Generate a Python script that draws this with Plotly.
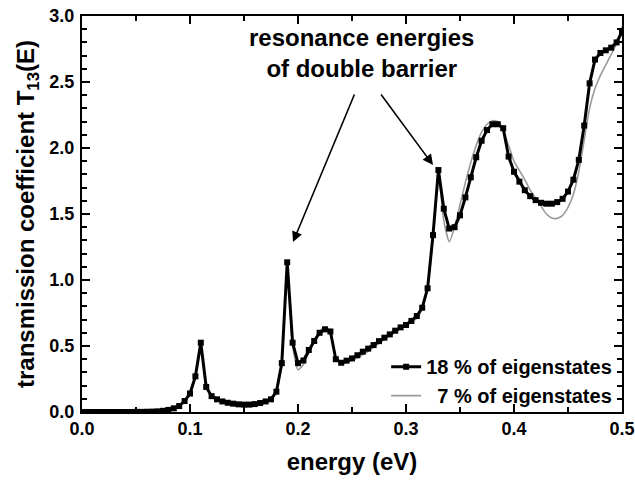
import plotly.graph_objects as go

energy = [round(i * 0.005, 3) for i in range(101)]

t13_18pct = [
    0, 0, 0, 0, 0, 0, 0, 0, 0, 0,
    0.001, 0.001, 0.002, 0.003, 0.005, 0.009, 0.016, 0.028, 0.045, 0.083,
    0.14, 0.27, 0.525, 0.19, 0.12, 0.096, 0.08, 0.07, 0.063, 0.058,
    0.056, 0.056, 0.06, 0.068, 0.08, 0.096, 0.154, 0.37, 1.134, 0.525,
    0.37, 0.39, 0.47, 0.538, 0.6, 0.626, 0.61, 0.40, 0.373, 0.389,
    0.406, 0.43, 0.457, 0.48, 0.507, 0.537, 0.563, 0.588, 0.616, 0.641,
    0.659, 0.69, 0.727, 0.79, 0.937, 1.34, 1.833, 1.54, 1.39, 1.40,
    1.49, 1.626, 1.778, 1.93, 2.055, 2.136, 2.18, 2.18, 2.15, 1.935,
    1.82, 1.745, 1.68, 1.635, 1.605, 1.585, 1.578, 1.578, 1.59, 1.615,
    1.67, 1.76, 1.91, 2.17, 2.49, 2.67, 2.72, 2.74, 2.76, 2.80,
    2.88,
]

t13_7pct = [
    0, 0, 0, 0, 0, 0, 0, 0, 0, 0,
    0.001, 0.001, 0.002, 0.003, 0.005, 0.009, 0.016, 0.028, 0.045, 0.083,
    0.14, 0.27, 0.52, 0.19, 0.12, 0.096, 0.08, 0.07, 0.063, 0.058,
    0.056, 0.056, 0.06, 0.068, 0.08, 0.096, 0.15, 0.36, 1.12, 0.50,
    0.32, 0.36, 0.45, 0.54, 0.61, 0.645, 0.62, 0.41, 0.365, 0.375,
    0.39, 0.41, 0.435, 0.46, 0.49, 0.52, 0.55, 0.58, 0.61, 0.635,
    0.655, 0.68, 0.71, 0.78, 0.93, 1.34, 1.80, 1.45, 1.29, 1.40,
    1.57, 1.74, 1.89, 2.02, 2.12, 2.18, 2.207, 2.20, 2.13, 2.02,
    1.90, 1.83, 1.76, 1.68, 1.62, 1.56, 1.50, 1.47, 1.467, 1.49,
    1.55, 1.65, 1.82, 2.06, 2.30, 2.45, 2.55, 2.63, 2.71, 2.79,
    2.92,
]

x_ticks = [0.0, 0.1, 0.2, 0.3, 0.4, 0.5]
y_ticks = [0.0, 0.5, 1.0, 1.5, 2.0, 2.5, 3.0]

FONT = "Liberation Sans, Arial, sans-serif"

fig = go.Figure()
fig.add_trace(go.Scatter(
    x=energy, y=t13_7pct, mode="lines", name="\u00a0\u00a07 % of eigenstates",
    line=dict(color="#9a9a9a", width=1.6, shape="spline", smoothing=0.5),
    legendrank=2,
))
fig.add_trace(go.Scatter(
    x=energy, y=t13_18pct, mode="lines+markers", name="18 % of eigenstates",
    line=dict(color="black", width=3),
    marker=dict(symbol="square", size=6, color="black"),
    legendrank=1,
))

axis_common = dict(
    showline=True, linecolor="black", linewidth=2, mirror="allticks",
    ticks="inside", ticklen=8, tickwidth=2, tickcolor="black",
    showgrid=False, zeroline=False, automargin=False,
    tickfont=dict(family=FONT, size=18, color="black", weight="bold"),
)

fig.update_xaxes(
    range=[0, 0.5], tickvals=x_ticks, ticktext=[f"{v:.1f}" for v in x_ticks],
    minor=dict(ticks="inside", dtick=0.05, ticklen=5, tickwidth=2, tickcolor="black", showgrid=False),
    title=dict(text="<b>energy (eV)</b>", font=dict(family=FONT, size=24, color="black"), standoff=16),
    ticklabelstandoff=-1,
    **axis_common,
)
fig.update_yaxes(
    range=[0, 3.0], tickvals=y_ticks, ticktext=[f"{v:.1f}" for v in y_ticks],
    minor=dict(ticks="inside", dtick=0.1, ticklen=5, tickwidth=2, tickcolor="black", showgrid=False),
    title=dict(text="<b>transmission coefficient T<sub>13</sub>(E)</b>",
               font=dict(family=FONT, size=24, color="black"), standoff=8),
    ticklabelstandoff=2,
    **axis_common,
)

fig.add_annotation(
    x=0.259, y=2.72, xref="x", yref="y", showarrow=False,
    text="<b>resonance energies<br>of double barrier</b>",
    font=dict(family=FONT, size=24, color="black"), align="center",
    xanchor="center", yanchor="middle",
)
fig.add_annotation(
    x=0.1954, y=1.288, ax=0.2528, ay=2.417, xref="x", yref="y", axref="x", ayref="y",
    text="", showarrow=True, arrowhead=2, arrowsize=1.3, arrowwidth=1.6, arrowcolor="black",
)
fig.add_annotation(
    x=0.325, y=1.871, ax=0.2759, ay=2.417, xref="x", yref="y", axref="x", ayref="y",
    text="", showarrow=True, arrowhead=2, arrowsize=1.3, arrowwidth=1.6, arrowcolor="black",
)

fig.update_layout(
    width=635, height=481,
    margin=dict(l=82, r=13, t=16, b=69),
    paper_bgcolor="white", plot_bgcolor="white",
    showlegend=True,
    legend=dict(
        x=0.991, y=-0.008, xanchor="right", yanchor="bottom",
        bgcolor="rgba(0,0,0,0)", borderwidth=0,
        font=dict(family=FONT, size=20, color="black", weight="bold"),
        tracegroupgap=0,
    ),
)

fig.write_html("out.html")
